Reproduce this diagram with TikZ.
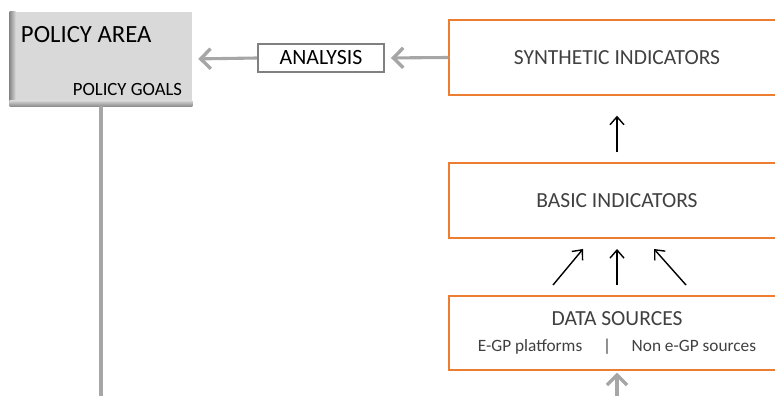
\documentclass[tikz,border=0pt]{standalone}
\usepackage{fontspec}
\setmainfont{Carlito}
\usetikzlibrary{arrows.meta}
\definecolor{boxorange}{HTML}{ED7D31}
\definecolor{linegrey}{HTML}{A6A6A6}
\definecolor{textgrey}{HTML}{404040}
\definecolor{areagrey}{HTML}{D9D9D9}

\begin{document}
\begin{tikzpicture}[x=0.25mm,y=-0.25mm,
  indbox/.style={draw=boxorange,line width=1pt,minimum width=84mm,minimum height=18.75mm,
    text=textgrey,font=\fontsize{15.3}{17}\selectfont},
  greyarrow/.style={draw=linegrey,line width=2.2pt,-{Straight Barb[length=2.5mm,width=5mm,line width=2.4pt]}},
  blackarrow/.style={line width=1pt,-{Straight Barb[length=2mm,width=3.5mm]}}]
\useasboundingbox (0,0) rectangle (775,396);
\clip (0,0) rectangle (775,396);

% policy area
\node[fill=areagrey,minimum width=45.5mm,minimum height=23.5mm] (area) at (101,59) {};
\shade[left color=gray!90,right color=areagrey] (area.north west) rectangle ++(6,94);
\shade[top color=areagrey,bottom color=gray!90] (area.south west) ++(0,-6) rectangle (area.south east);
\node[anchor=west,font=\fontsize{17.6}{19}\selectfont] (areaname) at (16,35) {POLICY AREA};
\node[anchor=east,font=\fontsize{13.3}{15}\selectfont] (goals) at (187,90) {POLICY GOALS};
\coordinate (lineend) at (101,400);
\draw[linegrey,line width=3pt] (area.south) -- (lineend);

\node[draw=gray,line width=1.3pt,fill=white,minimum width=31.5mm,minimum height=7mm,
  font=\fontsize{15.5}{17}\selectfont] (analysis) at (321,58) {ANALYSIS};

% indicators
\node[indbox] (synth) at (617,57.5) {SYNTHETIC INDICATORS};
\node[indbox] (basic) at (617,200.5) {BASIC INDICATORS};
\node[indbox,minimum height=18.5mm,align=center] (data) at (617,333)
  {DATA SOURCES\\[1pt]{\fontsize{12.3}{14}\selectfont E-GP platforms\hspace{1.2em}|\hspace{1.2em}Non e-GP sources}};

\draw[greyarrow,shorten >=1.5mm] (synth.west) -- (analysis.east);
\draw[greyarrow,shorten >=1.5mm] (analysis.west) -- (area.east);
\draw[blackarrow,shorten <=2.5mm,shorten >=5mm] (basic.north) -- (synth.south);

\coordinate (d1) at (553,285); \coordinate (b1) at (583,249);
\coordinate (d2) at (617,285); \coordinate (b2) at (617,249);
\coordinate (d3) at (686,285); \coordinate (b3) at (654,249);
\draw[blackarrow] (d1) -- (b1);
\draw[blackarrow] (d2) -- (b2);
\draw[blackarrow] (d3) -- (b3);

\coordinate (source) at (617,400);
\draw[greyarrow,shorten >=0.5mm] (source) -- (data.south);
\end{tikzpicture}
\end{document}
